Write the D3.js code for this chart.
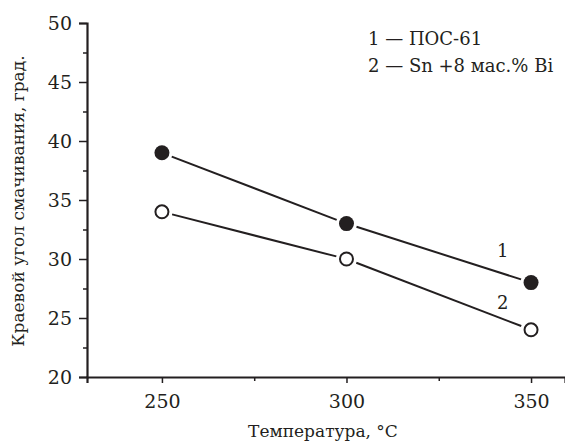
<!DOCTYPE html>
<html><head><meta charset="utf-8">
<script src="https://cdn.jsdelivr.net/npm/d3@7"></script>
<style>
body{margin:0;background:#fff;}
svg text{fill:#231f20;}
</style></head>
<body><svg id="c" width="565" height="444"></svg>
<script>
const temps = [250, 300, 350];
const series1 = [39, 33, 28];   // 1 — ПОС-61 (filled)
const series2 = [34, 30, 24];   // 2 — Sn +8 мас.% Bi (open)
const xTicks = [250, 300, 350];
const xMinorTicks = [275, 325];
const yTicks = [20, 25, 30, 35, 40, 45, 50];
const yMinorTicks = [22.5, 27.5, 32.5, 37.5, 42.5, 47.5];
const legendLines = ["1 — ПОС-61", "2 — Sn +8 мас.% Bi"];
const xLabel = "Температура, °C";
const yLabel = "Краевой угол смачивания, град.";

const FONT = "'DejaVu Serif', serif";
const svg = d3.select("#c");
const ink = "#231f20";
const x = d3.scaleLinear().domain([229.7, 359.2]).range([87, 565]);
const y = d3.scaleLinear().domain([20, 50]).range([377, 23]);

const gx = svg.append("g").attr("transform", `translate(0,${y(20)})`);
gx.call(d3.axisBottom(x).tickValues(xTicks).tickSize(6).tickPadding(12).tickFormat(d3.format("d")));
const gxm = svg.append("g").attr("transform", `translate(0,${y(20)})`);
gxm.call(d3.axisBottom(x).tickValues(xMinorTicks).tickSize(4).tickFormat(""));
gxm.select(".domain").remove();

const gy = svg.append("g").attr("transform", `translate(${x(229.7)},0)`);
gy.call(d3.axisLeft(y).tickValues(yTicks).tickSize(8).tickPadding(7).tickFormat(d3.format("d")));
const gym = svg.append("g").attr("transform", `translate(${x(229.7)},0)`);
gym.call(d3.axisLeft(y).tickValues(yMinorTicks).tickSize(4).tickFormat(""));
gym.select(".domain").remove();

svg.selectAll("g").attr("font-family", FONT);
svg.selectAll(".domain").attr("stroke", ink).attr("stroke-width", 2.2);
svg.selectAll(".tick line").attr("stroke", ink).attr("stroke-width", 1.5);
svg.selectAll(".tick text").attr("font-size", 19).attr("font-family", FONT).attr("fill", ink);
gy.selectAll(".tick text").attr("dy", "0.36em");

function drawSeries(vals, filled) {
  const pts = temps.map((t, i) => [x(t), y(vals[i])]);
  const gap = 10.5;
  for (let i = 0; i < pts.length - 1; i++) {
    const [x0, y0] = pts[i], [x1, y1] = pts[i + 1];
    const L = Math.hypot(x1 - x0, y1 - y0);
    const ux = (x1 - x0) / L, uy = (y1 - y0) / L;
    svg.append("line")
      .attr("x1", x0 + ux * gap).attr("y1", y0 + uy * gap)
      .attr("x2", x1 - ux * gap).attr("y2", y1 - uy * gap)
      .attr("stroke", ink).attr("stroke-width", 2);
  }
  svg.selectAll(null).data(pts).enter().append("circle")
    .attr("cx", d => d[0]).attr("cy", d => d[1])
    .attr("r", filled ? 7.5 : 6.5)
    .attr("fill", filled ? ink : "#fff")
    .attr("stroke", ink).attr("stroke-width", filled ? 0 : 2);
}
drawSeries(series1, true);
drawSeries(series2, false);

const txt = (xx, yy, s, size, anchor) => svg.append("text").attr("x", xx).attr("y", yy)
  .attr("font-family", FONT).attr("font-size", size).attr("text-anchor", anchor || "start").text(s);

txt(x(342.3), y(30.2), "1", 18, "middle");
txt(x(342.3), y(25.8), "2", 18, "middle");

legendLines.forEach((t, i) => txt(368, 45 + i * 27, t, 18));

txt(323, 437, xLabel, 17, "middle");
svg.append("text").attr("transform", `translate(24,201) rotate(-90)`).attr("text-anchor", "middle")
  .attr("font-family", FONT).attr("font-size", 17).text(yLabel);
</script></body></html>
